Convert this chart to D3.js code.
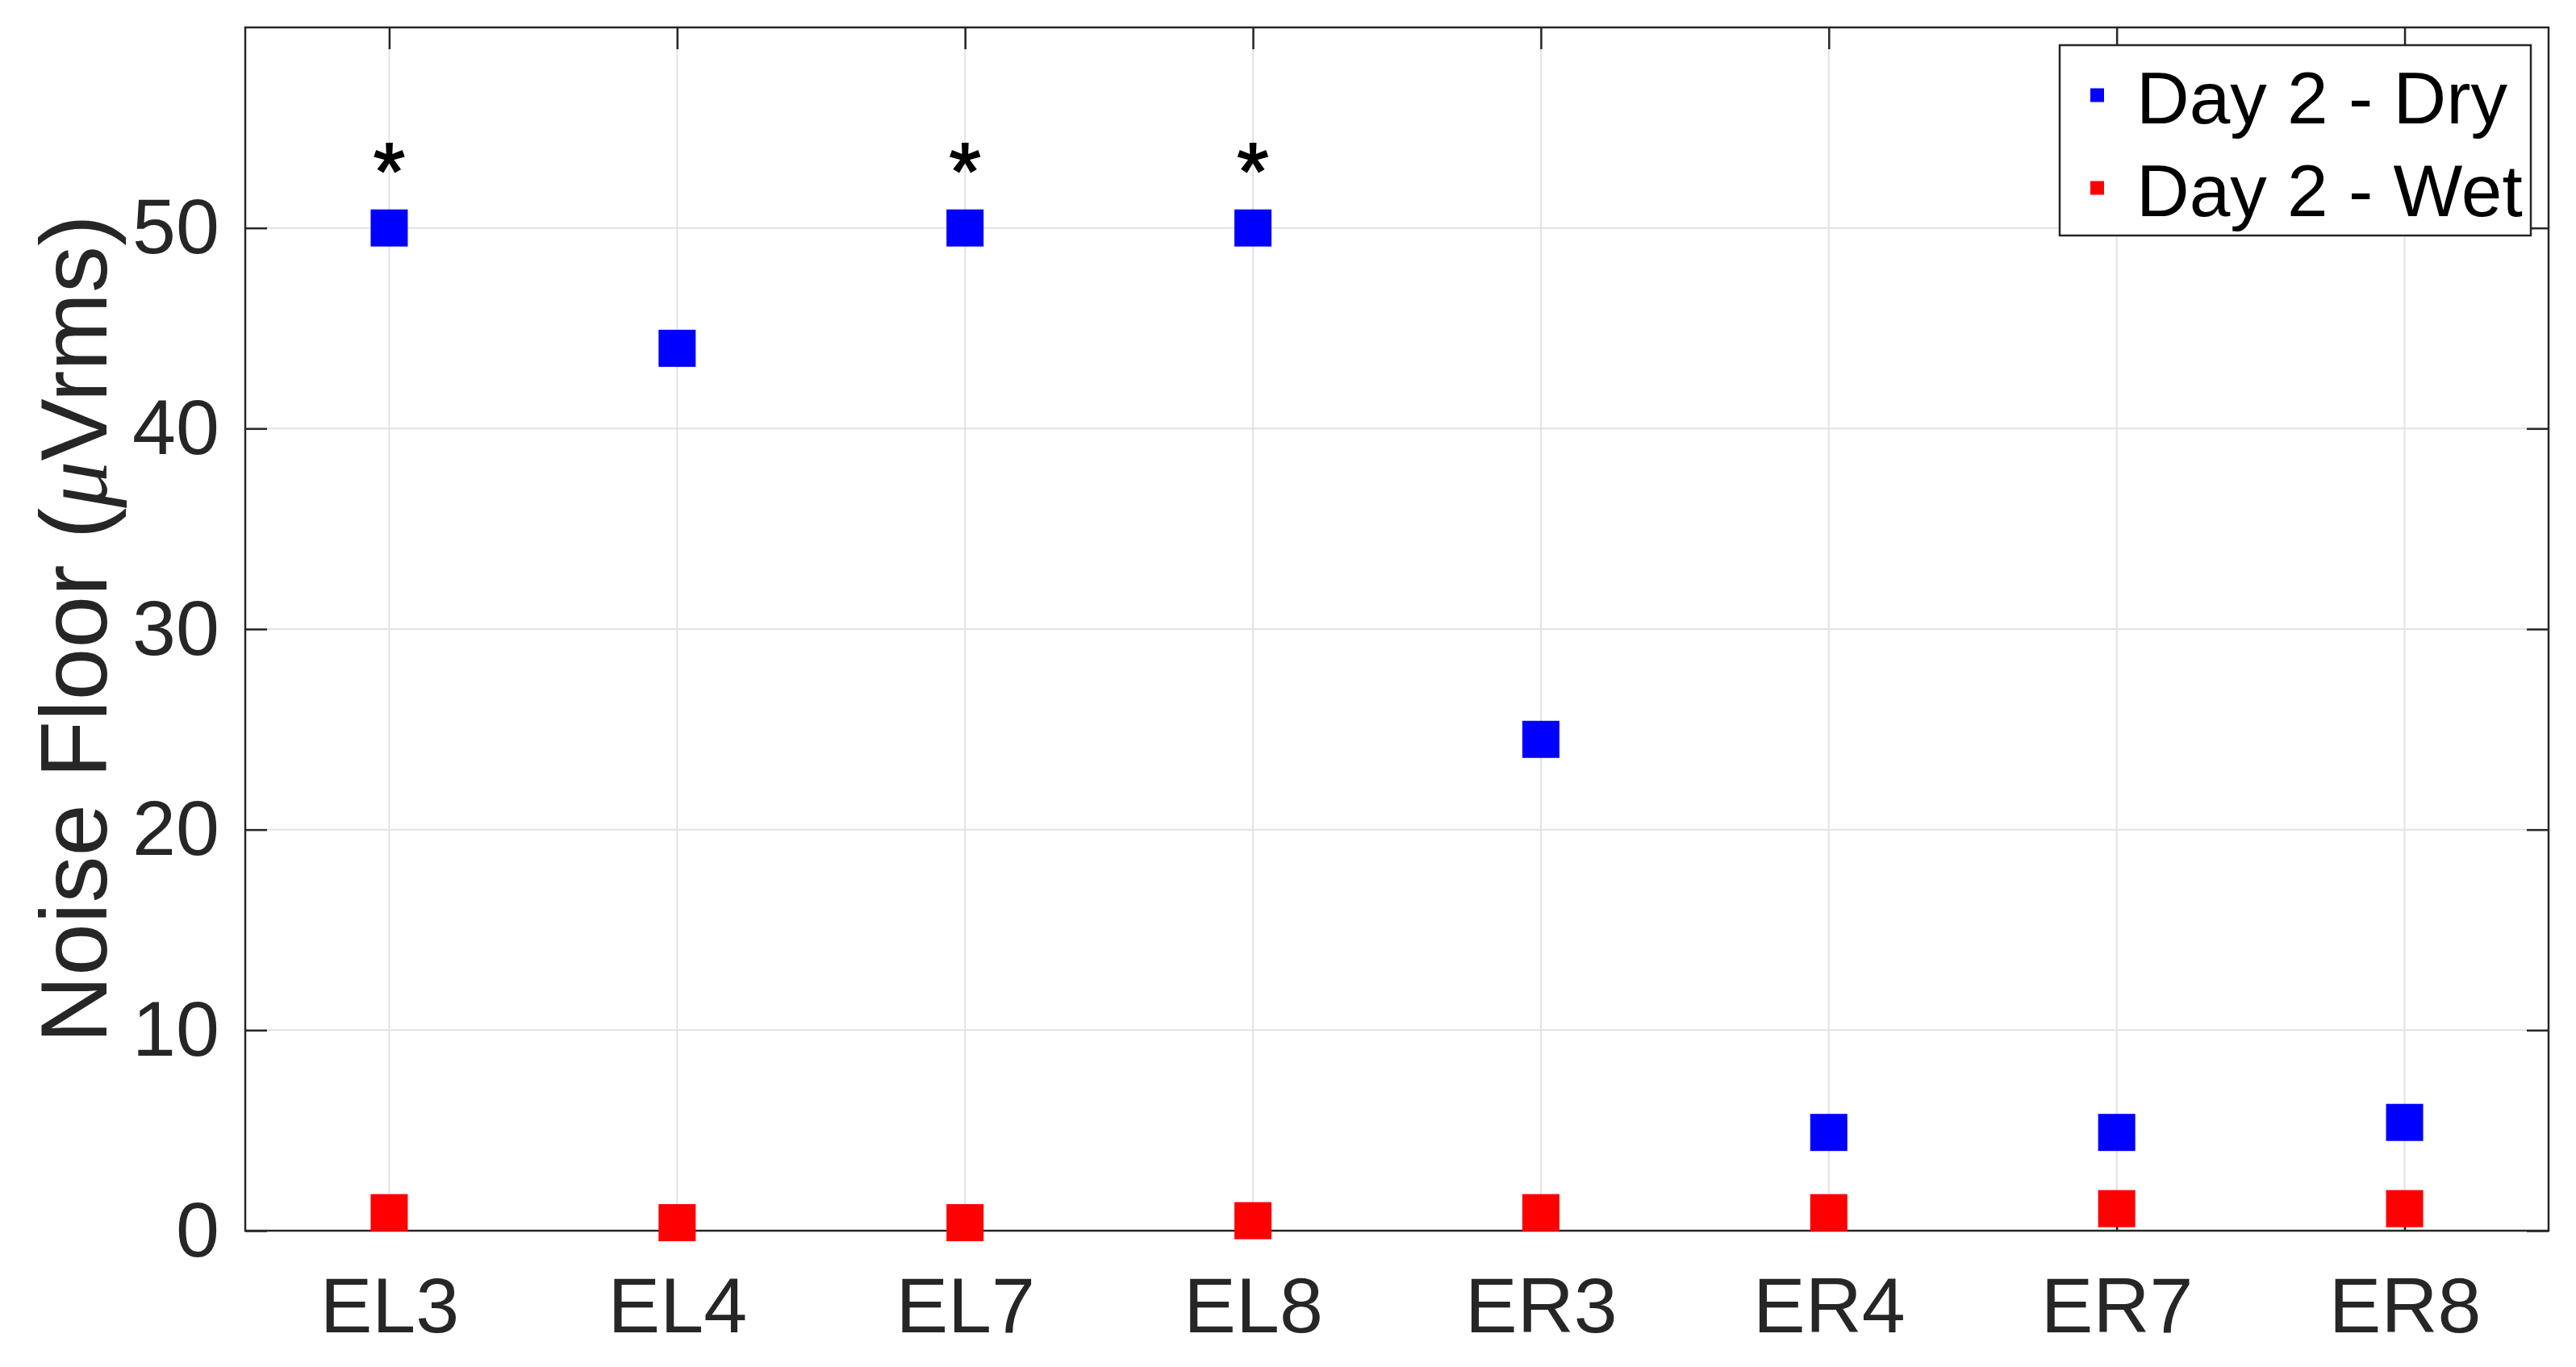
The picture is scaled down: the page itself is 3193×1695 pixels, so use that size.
<!DOCTYPE html>
<html>
<head>
<meta charset="utf-8">
<script src="https://cdn.jsdelivr.net/npm/d3@7"></script>
<style>
  html, body { margin: 0; padding: 0; background: #ffffff; }
  svg { display: block; }
  text { font-family: "Liberation Sans", Arial, Helvetica, sans-serif; }
</style>
</head>
<body>
<svg id="chart" width="3193" height="1695"></svg>
<script>
// ---- data ----
const categories = ["EL3", "EL4", "EL7", "EL8", "ER3", "ER4", "ER7", "ER8"];
const dryValues  = [50, 44, 50, 50, 24.5, 4.9, 4.9, 5.4];
const wetValues  = [0.9, 0.4, 0.4, 0.5, 0.9, 0.9, 1.1, 1.1];
const seriesNames = ["Day 2 - Dry", "Day 2 - Wet"];
const seriesColors = ["#0000ff", "#ff0000"];
const starredCategories = ["EL3", "EL7", "EL8"];
const yTicks = [0, 10, 20, 30, 40, 50];
const yDomain = [0, 60];

// ---- layout ----
const W = 3193, H = 1695;
const plot = { left: 304, right: 3159, top: 34, bottom: 1526 };
const axisColor = "#262626";
const gridColor = "#e2e2e2";
const tickLen = 27;
const markerSize = 46;

const svg = d3.select("#chart");
svg.append("rect").attr("width", W).attr("height", H).attr("fill", "#fff");

const x = d3.scalePoint().domain(categories).range([plot.left, plot.right]).padding(0.5);
const y = d3.scaleLinear().domain(yDomain).range([plot.bottom, plot.top]);

// grid
const grid = svg.append("g");
grid.selectAll("line.gx").data(categories).join("line")
  .attr("x1", d => x(d)).attr("x2", d => x(d))
  .attr("y1", plot.top).attr("y2", plot.bottom)
  .attr("stroke", gridColor).attr("stroke-width", 2);
grid.selectAll("line.gy").data(yTicks).join("line")
  .attr("x1", plot.left).attr("x2", plot.right)
  .attr("y1", d => y(d)).attr("y2", d => y(d))
  .attr("stroke", gridColor).attr("stroke-width", 2);

// axes
function styleAxis(g) {
  g.select(".domain").remove();
  g.selectAll(".tick line").attr("stroke", axisColor).attr("stroke-width", 2.5);
  g.selectAll(".tick text").attr("fill", axisColor);
}
const fontTick = 97;

svg.append("g").attr("transform", `translate(0,${plot.bottom})`)
  .call(d3.axisBottom(x).tickSize(-tickLen).tickPadding(57))
  .call(styleAxis)
  .selectAll("text").style("font-size", fontTick + "px");

svg.append("g").attr("transform", `translate(0,${plot.top})`)
  .call(d3.axisTop(x).tickSize(-tickLen).tickFormat(""))
  .call(styleAxis);

svg.append("g").attr("transform", `translate(${plot.left},0)`)
  .call(d3.axisLeft(y).tickValues(yTicks).tickSize(-tickLen).tickPadding(32).tickFormat(d3.format("d")))
  .call(styleAxis)
  .selectAll("text").style("font-size", fontTick + "px");

svg.append("g").attr("transform", `translate(${plot.right},0)`)
  .call(d3.axisRight(y).tickValues(yTicks).tickSize(-tickLen).tickFormat(""))
  .call(styleAxis);

// frame
svg.append("rect")
  .attr("x", plot.left).attr("y", plot.top)
  .attr("width", plot.right - plot.left).attr("height", plot.bottom - plot.top)
  .attr("fill", "none").attr("stroke", axisColor).attr("stroke-width", 2.5);

// y label
const yl = svg.append("text")
  .attr("transform", `translate(132,${(plot.top + plot.bottom) / 2}) rotate(-90)`)
  .attr("text-anchor", "middle")
  .attr("fill", axisColor)
  .style("font-size", "116px");
yl.append("tspan").text("Noise Floor (");
yl.append("tspan").text("\u03BC").style("font-style", "italic")
  .style("font-family", "'Liberation Serif', 'DejaVu Serif', serif");
yl.append("tspan").text("Vrms)");

// markers
const series = [dryValues, wetValues];
series.forEach((vals, si) => {
  svg.append("g").selectAll("rect").data(categories).join("rect")
    .attr("x", (d, i) => x(d) - markerSize / 2)
    .attr("y", (d, i) => y(vals[i]) - markerSize / 2)
    .attr("width", markerSize).attr("height", markerSize)
    .attr("fill", seriesColors[si]);
});

// significance stars
svg.append("g").selectAll("text").data(starredCategories).join("text")
  .attr("x", d => x(d))
  .attr("y", d => y(dryValues[categories.indexOf(d)]) - 36)
  .attr("text-anchor", "middle")
  .attr("fill", "#000")
  .attr("stroke", "#000").attr("stroke-width", 2)
  .style("font-size", "100px")
  .text("*");

// legend
const lg = { x: 2553, y: 56, w: 584, h: 236 };
svg.append("rect").attr("x", lg.x).attr("y", lg.y).attr("width", lg.w).attr("height", lg.h)
  .attr("fill", "#fff").attr("stroke", axisColor).attr("stroke-width", 2.5);
const rowY = [118, 233];
seriesNames.forEach((name, i) => {
  svg.append("rect").attr("x", 2591).attr("y", rowY[i] - 8.5).attr("width", 17).attr("height", 17)
    .attr("fill", seriesColors[i]);
  svg.append("text").attr("x", 2648).attr("y", rowY[i] + 35)
    .attr("fill", "#000").style("font-size", "91px").text(name);
});
</script>
</body>
</html>
